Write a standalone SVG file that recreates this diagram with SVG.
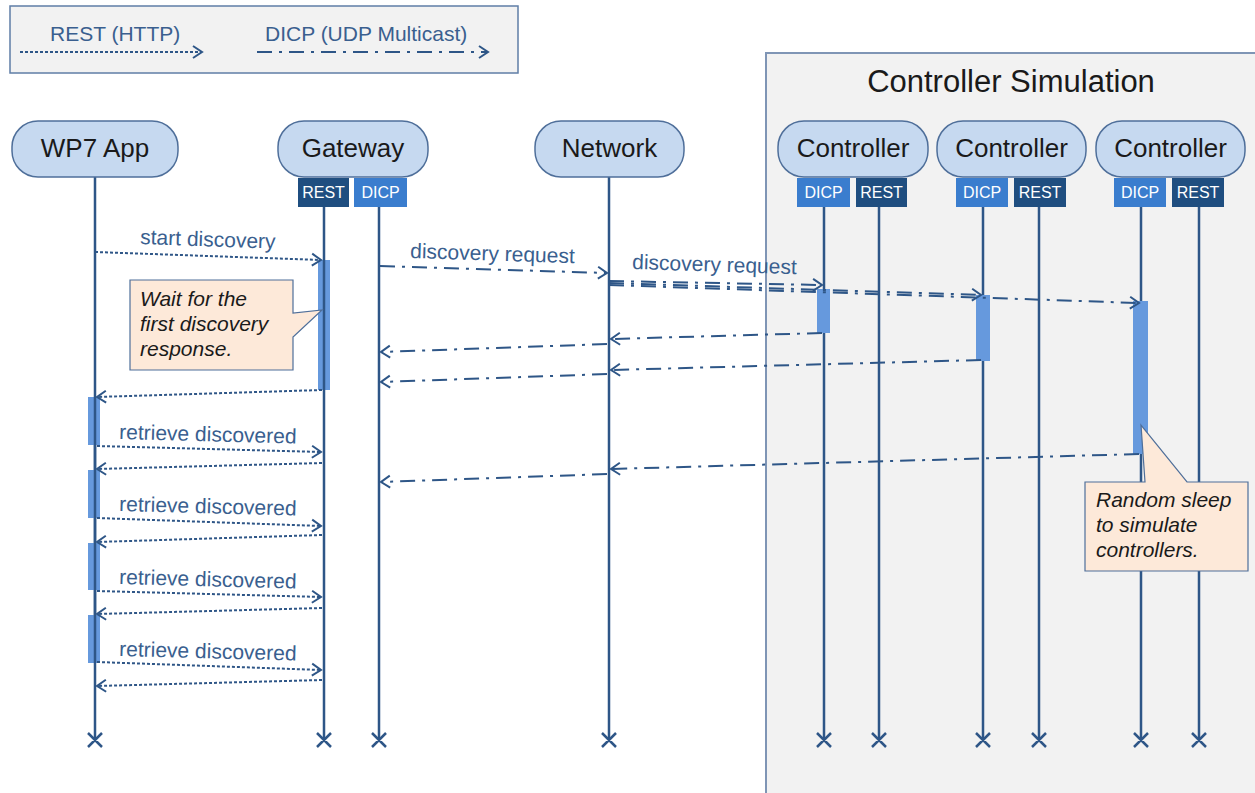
<svg xmlns="http://www.w3.org/2000/svg" width="1255" height="793" viewBox="0 0 1255 793">
<defs>
<marker id="arr" markerUnits="userSpaceOnUse" markerWidth="12" markerHeight="14" refX="9" refY="6" orient="auto" overflow="visible">
<path d="M0,0 L9,6 L0,12" fill="none" stroke="#2e5687" stroke-width="2"/>
</marker>
<style>
.node{fill:#c6d9f0;stroke:#4f6f9a;stroke-width:1.5}
.ntext{font-family:"Liberation Sans",Arial,sans-serif;font-size:26px;fill:#1a1a1a;text-anchor:middle}
.tag{font-family:"Liberation Sans",Arial,sans-serif;font-size:16px;fill:#ffffff;text-anchor:middle}
.rest{fill:#1f4e80}
.dicp{fill:#3a7dce}
.life{stroke:#2e5687;stroke-width:2.5;fill:none}
.xm{stroke:#2e5687;stroke-width:2.5;fill:none}
.act{fill:#6699dd}
.http{stroke:#2e5687;stroke-width:2;fill:none;stroke-dasharray:3 2;marker-end:url(#arr)}
.udp{stroke:#2e5687;stroke-width:2;fill:none;stroke-dasharray:15 7 3 7;marker-end:url(#arr)}
.lbl{font-family:"Liberation Sans",Arial,sans-serif;font-size:21px;fill:#3a5f8f}
.note{fill:#fde9d9;stroke:#4f6f9a;stroke-width:1.2}
.ntxt{font-family:"Liberation Sans",Arial,sans-serif;font-size:21px;font-style:italic;fill:#1a1a1a}
</style>
</defs>
<rect width="1255" height="793" fill="#ffffff"/>

<g id="legend">
<rect x="10" y="6" width="508" height="67" fill="#f2f2f2" stroke="#5f7ea6" stroke-width="1.5"/>
<text class="lbl" x="50" y="41">REST (HTTP)</text>
<line class="http" x1="20" y1="52" x2="202" y2="52"/>
<text class="lbl" x="265" y="41">DICP (UDP Multicast)</text>
<line class="udp" x1="257" y1="52" x2="488" y2="52"/>
</g>

<g id="controller-simulation">
<rect x="766" y="53" width="495" height="745" fill="#f2f2f2" stroke="#7f95b5" stroke-width="2"/>
<text x="1011" y="92" style="font-family:'Liberation Sans',Arial,sans-serif;font-size:31px;fill:#1a1a1a;text-anchor:middle">Controller Simulation</text>
</g>

<g id="lifelines">
<line class="life" x1="95" y1="177" x2="95" y2="740"/>
<line class="life" x1="324" y1="207" x2="324" y2="740"/>
<line class="life" x1="379" y1="207" x2="379" y2="740"/>
<line class="life" x1="609" y1="177" x2="609" y2="740"/>
<line class="life" x1="824" y1="207" x2="824" y2="740"/>
<line class="life" x1="879" y1="207" x2="879" y2="740"/>
<line class="life" x1="983" y1="207" x2="983" y2="740"/>
<line class="life" x1="1039" y1="207" x2="1039" y2="740"/>
<line class="life" x1="1141" y1="207" x2="1141" y2="740"/>
<line class="life" x1="1199" y1="207" x2="1199" y2="740"/>
<path class="xm" d="M88,733 L102,747 M102,733 L88,747 M317,733 L331,747 M331,733 L317,747 M372,733 L386,747 M386,733 L372,747 M602,733 L616,747 M616,733 L602,747 M817,733 L831,747 M831,733 L817,747 M872,733 L886,747 M886,733 L872,747 M976,733 L990,747 M990,733 L976,747 M1032,733 L1046,747 M1046,733 L1032,747 M1134,733 L1148,747 M1148,733 L1134,747 M1192,733 L1206,747 M1206,733 L1192,747"/>
</g>

<g id="wp7-app">
<rect class="node" x="12" y="121" width="166" height="56" rx="26"/>
<text class="ntext" x="95" y="157">WP7 App</text>
</g>
<g id="gateway">
<rect class="node" x="278" y="121" width="150" height="56" rx="26"/>
<text class="ntext" x="353" y="157">Gateway</text>
<rect class="rest" x="298" y="178" width="51" height="29"/>
<text class="tag" x="323.5" y="198">REST</text>
<rect class="dicp" x="354" y="178" width="53" height="29"/>
<text class="tag" x="380.5" y="198">DICP</text>
</g>
<g id="network">
<rect class="node" x="535" y="121" width="149" height="56" rx="26"/>
<text class="ntext" x="609.5" y="157">Network</text>
</g>
<g id="controller-1">
<rect class="node" x="778" y="121" width="150" height="56" rx="26"/>
<text class="ntext" x="853" y="157">Controller</text>
<rect class="dicp" x="797" y="178" width="53" height="29"/>
<text class="tag" x="823.5" y="198">DICP</text>
<rect class="rest" x="856" y="178" width="51" height="29"/>
<text class="tag" x="881.5" y="198">REST</text>
</g>
<g id="controller-2">
<rect class="node" x="937" y="121" width="149" height="56" rx="26"/>
<text class="ntext" x="1011.5" y="157">Controller</text>
<rect class="dicp" x="956" y="178" width="52" height="29"/>
<text class="tag" x="982" y="198">DICP</text>
<rect class="rest" x="1014" y="178" width="52" height="29"/>
<text class="tag" x="1040" y="198">REST</text>
</g>
<g id="controller-3">
<rect class="node" x="1096" y="121" width="149" height="56" rx="26"/>
<text class="ntext" x="1170.5" y="157">Controller</text>
<rect class="dicp" x="1114" y="178" width="52" height="29"/>
<text class="tag" x="1140" y="198">DICP</text>
<rect class="rest" x="1172" y="178" width="52" height="29"/>
<text class="tag" x="1198" y="198">REST</text>
</g>

<g id="activations">
<rect class="act" x="318" y="260" width="12" height="130"/>
<rect class="act" x="817" y="289" width="13" height="44"/>
<rect class="act" x="976" y="295" width="14" height="66"/>
<rect class="act" x="1133" y="301" width="15" height="153"/>
<rect class="act" x="88" y="397" width="12" height="48"/>
<rect class="act" x="88" y="470" width="12" height="48"/>
<rect class="act" x="88" y="543" width="12" height="47"/>
<rect class="act" x="88" y="615" width="12" height="48"/>
<line class="life" x1="324" y1="260" x2="324" y2="390"/>
<line class="life" x1="95" y1="397" x2="95" y2="663"/>
</g>

<g id="connectors">
<line class="http" x1="95" y1="252" x2="321" y2="260"/>
<text class="lbl" x="140" y="244" transform="rotate(2 140 244)">start discovery</text>
<line class="udp" x1="380" y1="266" x2="607" y2="273"/>
<text class="lbl" x="410" y="258" transform="rotate(1.8 410 258)">discovery request</text>
<text class="lbl" x="632" y="269" transform="rotate(1.8 632 269)">discovery request</text>
<line class="udp" x1="609" y1="281" x2="822" y2="285"/>
<line class="udp" x1="609" y1="283" x2="981" y2="295"/>
<line class="udp" x1="609" y1="285" x2="1139" y2="303"/>
<line class="udp" x1="822" y1="333" x2="611" y2="339"/>
<line class="udp" x1="607" y1="344" x2="381" y2="352"/>
<line class="udp" x1="981" y1="360" x2="611" y2="370"/>
<line class="udp" x1="607" y1="374" x2="381" y2="382"/>
<line class="udp" x1="1139" y1="454" x2="611" y2="469"/>
<line class="udp" x1="607" y1="474" x2="381" y2="482"/>
<line class="http" x1="322" y1="390" x2="97" y2="397"/>
<text class="lbl" x="119" y="439" transform="rotate(1.5 119 439)">retrieve discovered</text>
<line class="http" x1="97" y1="446" x2="321" y2="452"/>
<line class="http" x1="322" y1="463" x2="97" y2="469"/>
<text class="lbl" x="119" y="511" transform="rotate(1.5 119 511)">retrieve discovered</text>
<line class="http" x1="97" y1="518" x2="321" y2="526"/>
<line class="http" x1="322" y1="535" x2="97" y2="542"/>
<text class="lbl" x="119" y="584" transform="rotate(1.5 119 584)">retrieve discovered</text>
<line class="http" x1="97" y1="591" x2="321" y2="597"/>
<line class="http" x1="322" y1="608" x2="97" y2="614"/>
<text class="lbl" x="119" y="656" transform="rotate(1.5 119 656)">retrieve discovered</text>
<line class="http" x1="97" y1="662" x2="321" y2="670"/>
<line class="http" x1="322" y1="680" x2="97" y2="686"/>
</g>

<g id="note-wait">
<path class="note" d="M130,280 H293 V313 L322,310 L293,337 V370 H130 Z"/>
<text class="ntxt" x="140" y="306">Wait for the</text>
<text class="ntxt" x="140" y="331">first discovery</text>
<text class="ntxt" x="140" y="356">response.</text>
</g>
<g id="note-random">
<path class="note" d="M1085,482 H1145 L1141,425 L1187,482 H1248 V571 H1085 Z"/>
<text class="ntxt" x="1096" y="507">Random sleep</text>
<text class="ntxt" x="1096" y="532">to simulate</text>
<text class="ntxt" x="1096" y="557">controllers.</text>
</g>
</svg>
